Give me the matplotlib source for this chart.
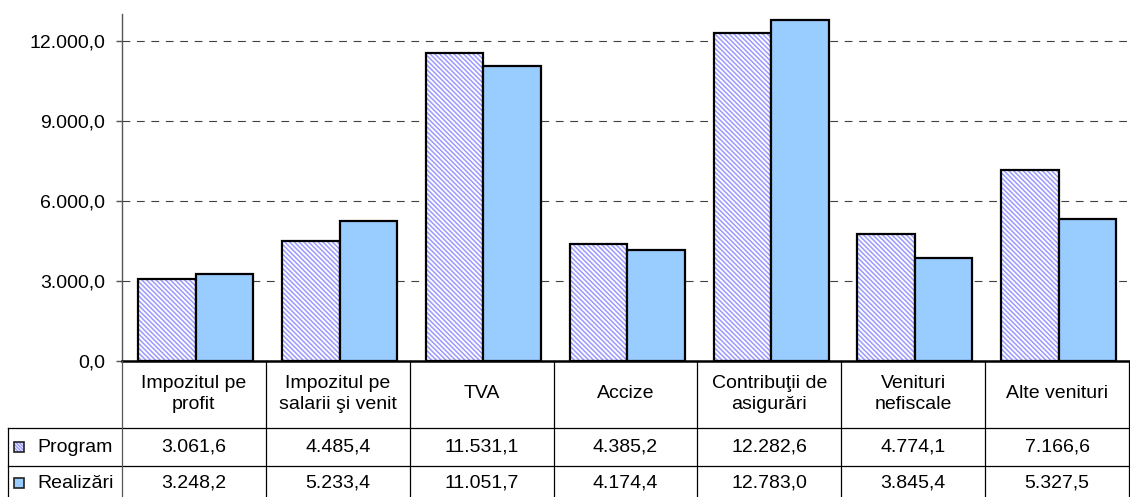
import matplotlib
matplotlib.use("Agg")
import matplotlib.pyplot as plt
from matplotlib.patches import Rectangle
from matplotlib.lines import Line2D

plt.rcParams['font.family'] = ['Liberation Sans', 'DejaVu Sans']

categories = ["Impozitul pe\nprofit", "Impozitul pe\nsalarii şi venit", "TVA", "Accize",
              "Contribuţii de\nasigurări", "Venituri\nnefiscale", "Alte venituri"]
series_names = ["Program", "Realizări"]
program = [3061.6, 4485.4, 11531.1, 4385.2, 12282.6, 4774.1, 7166.6]
realizari = [3248.2, 5233.4, 11051.7, 4174.4, 12783.0, 3845.4, 5327.5]
yticks = [0, 3000, 6000, 9000, 12000]

W, H = 1130, 497
FS = 14
HATCH_COL = '#9a9aff'
REAL_COL = '#99ccff'
HATCH = '\\' * 7


def ro(v):
    s = f"{v:,.1f}"
    return s.replace(',', 'X').replace('.', ',').replace('X', '.')


plt.rcParams['hatch.linewidth'] = 1.1

fig = plt.figure(figsize=(W / 100, H / 100), dpi=100)
ax_left, ax_right, ax_top, ax_bot = 122, 1129, 14, 361
ax = fig.add_axes([ax_left / W, 1 - ax_bot / H, (ax_right - ax_left) / W, (ax_bot - ax_top) / H])

n = len(categories)
xs = [i + 0.5 for i in range(n)]
bw = 0.4
xp = [x - bw / 2 + 0.012 for x in xs]
xr = [x + bw / 2 + 0.012 for x in xs]

ax.bar(xp, program, width=bw, facecolor='white', edgecolor=HATCH_COL, hatch=HATCH, linewidth=0, zorder=2)
ax.bar(xp, program, width=bw, facecolor='none', edgecolor='black', linewidth=1.6, zorder=3)
ax.bar(xr, realizari, width=bw, facecolor=REAL_COL, edgecolor='black', linewidth=1.6, zorder=3)

ax.set_xlim(0, n)
ax.set_ylim(0, 13000)
ax.set_yticks(yticks)
ax.set_yticklabels([ro(v) for v in yticks], fontsize=FS)
ax.set_xticks([])
ax.yaxis.grid(True, color='#404040', linewidth=0.8, linestyle=(0, (7, 6)), zorder=0)
ax.set_axisbelow(True)
for s in ['top', 'right']:
    ax.spines[s].set_visible(False)
ax.spines['left'].set_color('#555555')
ax.spines['left'].set_linewidth(1.0)
ax.spines['bottom'].set_color('black')
ax.spines['bottom'].set_linewidth(1.8)
ax.tick_params(axis='y', direction='out', length=4, width=1, color='#555555', pad=8)

# ---- data table below the axes (figure pixel geometry) ----
cw = (ax_right - ax_left) / n


def fx(px):
    return px / W


def fy(py):
    return 1 - py / H


row_tops = [361, 428, 466, 504]
lbl_left = 8
lc = 'black'
lw = 0.9
for py in row_tops[1:3]:
    fig.add_artist(Line2D([fx(lbl_left), fx(ax_right)], [fy(py), fy(py)], color=lc, lw=lw))
for i in range(n + 1):
    px = ax_left + i * cw
    fig.add_artist(Line2D([fx(px), fx(px)], [fy(361), fy(504)], color=lc if i else '#555555', lw=lw))
fig.add_artist(Line2D([fx(lbl_left), fx(lbl_left)], [fy(428), fy(504)], color=lc, lw=lw))

for i, c in enumerate(categories):
    cx = ax_left + (i + 0.5) * cw
    fig.text(fx(cx), fy(394), c, ha='center', va='center', fontsize=FS, linespacing=1.3)

for r, (name, vals) in enumerate(zip(series_names, [program, realizari])):
    cy = (row_tops[r + 1] + row_tops[r + 2]) / 2 - (0 if r == 0 else 2)
    for i, v in enumerate(vals):
        cx = ax_left + (i + 0.5) * cw
        fig.text(fx(cx), fy(cy), ro(v), ha='center', va='center', fontsize=FS)
    fig.text(fx(37), fy(cy), name, ha='left', va='center', fontsize=FS)
    kx, ks = 14, 10
    if r == 0:
        fig.add_artist(Rectangle((fx(kx), fy(cy + ks / 2)), ks / W, ks / H, transform=fig.transFigure,
                                 facecolor='white', edgecolor=HATCH_COL, hatch='\\' * 10, linewidth=0))
        fig.add_artist(Rectangle((fx(kx), fy(cy + ks / 2)), ks / W, ks / H, transform=fig.transFigure,
                                 facecolor='none', edgecolor='#222222', linewidth=1.2))
    else:
        fig.add_artist(Rectangle((fx(kx), fy(cy + ks / 2)), ks / W, ks / H, transform=fig.transFigure,
                                 facecolor=REAL_COL, edgecolor='#222222', linewidth=1.2))

fig.savefig('out.png', dpi=100)
